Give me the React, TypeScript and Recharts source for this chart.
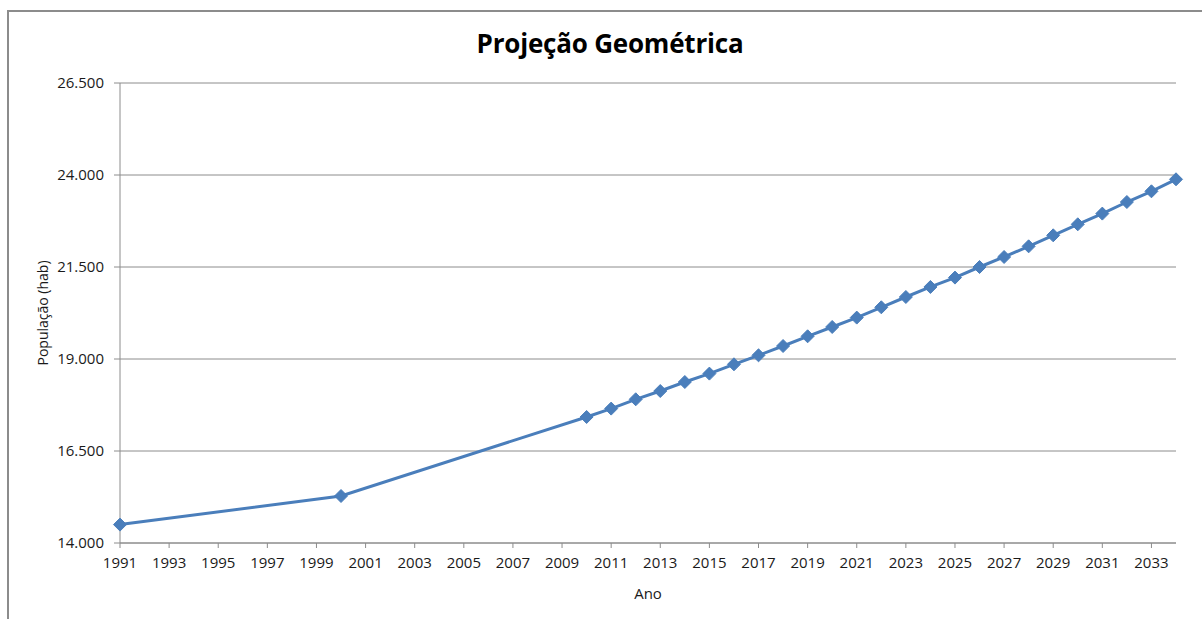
import React from 'react';
import { LineChart, Line, XAxis, YAxis, CartesianGrid, Label } from 'recharts';

const years: number[] = [1991, 2000, 2010, 2011, 2012, 2013, 2014, 2015, 2016, 2017, 2018, 2019, 2020, 2021, 2022, 2023, 2024, 2025, 2026, 2027, 2028, 2029, 2030, 2031, 2032, 2033, 2034];
const population: number[] = [14500, 15277, 17424, 17652, 17905, 18130, 18375, 18603, 18856, 19100, 19353, 19617, 19870, 20125, 20405, 20685, 20957, 21212, 21500, 21772, 22062, 22361, 22660, 22951, 23266, 23557, 23883];
const xTicks: number[] = [1991, 1993, 1995, 1997, 1999, 2001, 2003, 2005, 2007, 2009, 2011, 2013, 2015, 2017, 2019, 2021, 2023, 2025, 2027, 2029, 2031, 2033];
const yTicks: number[] = [14000, 16500, 19000, 21500, 24000, 26500];

const title = 'Projeção Geométrica';
const xLabel = 'Ano';
const yLabel = 'População (hab)';

const data = years.map((ano, i) => ({ ano, pop: population[i] }));

const fmt = (v: number) => String(v).replace(/\B(?=(\d{3})+(?!\d))/g, '.');

const FONT = '"Open Sans", sans-serif';
const BLUE = '#4a7ebb';
const GREY = '#8c8c8c';

const Diamond = (props: any) => {
  const { cx, cy } = props;
  if (cx == null || cy == null) return null;
  const r = 6.5;
  return (
    <path
      d={`M${cx},${cy - r} L${cx + r},${cy} L${cx},${cy + r} L${cx - r},${cy} Z`}
      fill={BLUE}
      stroke={BLUE}
      strokeWidth={1}
    />
  );
};

export default function App() {
  return (
    <div style={{ position: 'absolute', left: 0, top: 0, width: 1202, height: 619, background: '#fff', fontFamily: FONT }}>
      <div
        style={{
          position: 'absolute',
          left: 7,
          top: 10,
          width: 1195,
          height: 609,
          borderTop: `2px solid ${GREY}`,
          borderLeft: `2px solid ${GREY}`,
          boxSizing: 'border-box',
        }}
      />
      <div
        style={{
          position: 'absolute',
          left: 0,
          top: 25,
          width: 1220,
          textAlign: 'center',
          fontFamily: FONT,
          fontWeight: 700,
          fontSize: 26,
          color: '#000',
          letterSpacing: -0.2,
        }}
      >
        {title}
      </div>
      <div style={{ position: 'absolute', left: 0, top: 0 }}>
        <LineChart width={1202} height={619} data={data} margin={{ top: 83, right: 26, bottom: 16, left: 0 }}>
          <CartesianGrid vertical={false} stroke={GREY} strokeWidth={1} />
          <XAxis
            dataKey="ano"
            type="number"
            domain={[1991, 2034]}
            ticks={xTicks}
            interval={0}
            height={60}
            axisLine={{ stroke: GREY, strokeWidth: 1 }}
            tickLine={{ stroke: GREY }}
            tickSize={5}
            tickMargin={9}
            tick={{ fill: '#1a1a1a', fontSize: 15, fontFamily: FONT }}
          >
            <Label value={xLabel} position="insideBottom" offset={4} style={{ fill: '#1a1a1a', fontSize: 15, fontFamily: FONT }} />
          </XAxis>
          <YAxis
            type="number"
            domain={[14000, 26500]}
            ticks={yTicks}
            interval={0}
            width={120}
            axisLine={{ stroke: GREY, strokeWidth: 1 }}
            tickLine={{ stroke: GREY }}
            tickSize={6}
            tickMargin={10}
            tickFormatter={fmt}
            tick={{ fill: '#1a1a1a', fontSize: 15, fontFamily: FONT }}
          >
            <Label
              content={(props: any) => {
                const vb = props.viewBox || {};
                const cx = 42;
                const cy = (vb.y ?? 0) + (vb.height ?? 0) / 2;
                return (
                  <text
                    x={cx}
                    y={cy}
                    transform={`rotate(-90 ${cx} ${cy})`}
                    textAnchor="middle"
                    dominantBaseline="central"
                    style={{ fill: '#1a1a1a', fontSize: 14, fontFamily: FONT }}
                  >
                    {yLabel}
                  </text>
                );
              }}
            />
          </YAxis>
          <Line
            type="linear"
            dataKey="pop"
            stroke={BLUE}
            strokeWidth={3}
            dot={<Diamond />}
            activeDot={false}
            isAnimationActive={false}
          />
        </LineChart>
      </div>
    </div>
  );
}
